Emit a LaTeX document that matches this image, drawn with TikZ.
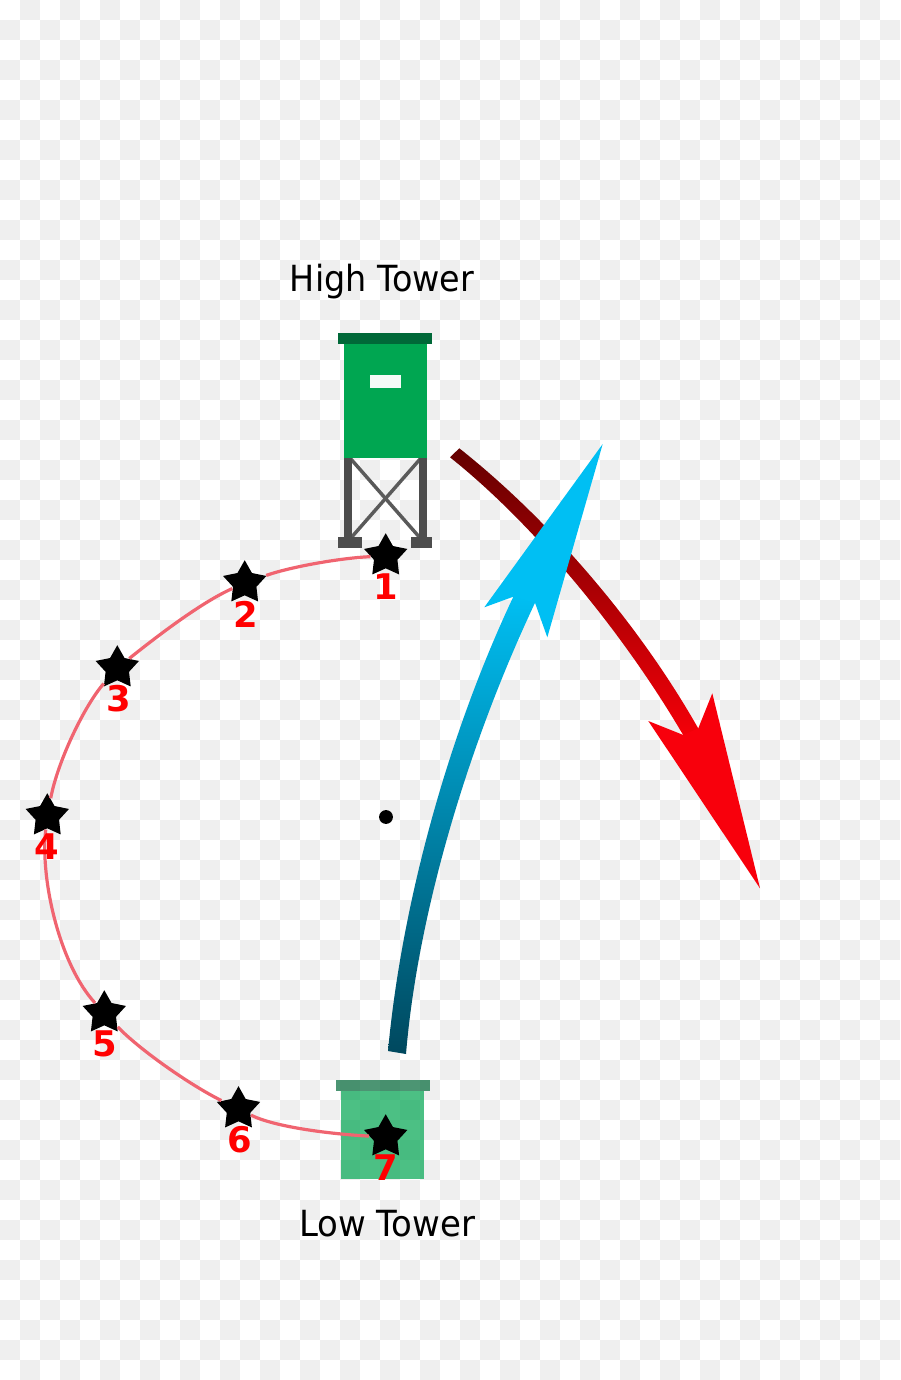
\documentclass[tikz,border=0pt]{standalone}
\usepackage{fontspec}
\usepackage{graphicx}
\usetikzlibrary{shapes.geometric}
\newfontfamily\towerfont{DejaVu Sans}
\newfontfamily\digitfont{DejaVu Sans Bold}
\definecolor{shaftdark}{RGB}{0,72,94}
\definecolor{shaftlight}{RGB}{0,191,243}
\definecolor{redshaftdark}{RGB}{100,0,0}
\definecolor{redshaftlight}{RGB}{245,0,8}
\tikzset{every picture/.style={line width=0.75pt}}
\tikzset{
  waypoint/.style={star,star points=5,star point ratio=1.85,fill=black,inner sep=0pt,minimum size=34.2pt},
  waynum/.style={anchor=base,inner sep=0pt,text={rgb, 255:red, 255; green, 0; blue, 0},font=\digitfont\fontsize{26.5}{27}\selectfont},
  towername/.style={anchor=base,inner sep=0pt,font=\towerfont\fontsize{27}{30}\selectfont},
  orbit/.style={draw={rgb, 255:red, 240; green, 100; blue, 112},line width=2.4pt}
}

\begin{document}
\begin{tikzpicture}[x=0.75pt,y=0.75pt,yscale=-1,xscale=1]
\useasboundingbox (0,0) rectangle (900,1380);

%Checks behind everything
\fill [white] (0,0) rectangle (900,1380);
\foreach \col in {0,...,44} {
  \foreach \row in {0,...,68} {
    \pgfmathtruncatemacro{\check}{mod(\col+\row,2)}
    \ifnum\check=1
      \fill [color={rgb, 255:red, 239; green, 239; blue, 239}] (\col*20,\row*20) rectangle ++(20,20);
    \fi
  }
}

%Straight Lines [high tower braces]
\draw [color={rgb, 255:red, 90; green, 90; blue, 90}, line width=2.6pt] (350,458) -- (421,539) ;
\draw [color={rgb, 255:red, 90; green, 90; blue, 90}, line width=2.6pt] (421,458) -- (350,539) ;
%Shape: Rectangle [high tower legs]
\fill [color={rgb, 255:red, 77; green, 77; blue, 77}] (344,458) -- (351.7,458) -- (351.7,540) -- (344,540) -- cycle ;
\fill [color={rgb, 255:red, 77; green, 77; blue, 77}] (419.3,458) -- (427,458) -- (427,540) -- (419.3,540) -- cycle ;
%Shape: Rectangle [high tower feet]
\fill [color={rgb, 255:red, 77; green, 77; blue, 77}] (338.3,537.3) -- (362.3,537.3) -- (362.3,548.3) -- (338.3,548.3) -- cycle ;
\fill [color={rgb, 255:red, 77; green, 77; blue, 77}] (411,537.3) -- (432.3,537.3) -- (432.3,548.3) -- (411,548.3) -- cycle ;
%Shape: Rectangle [high tower cabin]
\fill [color={rgb, 255:red, 0; green, 166; blue, 81}] (344,344) -- (427,344) -- (427,457.7) -- (344,457.7) -- cycle ;
\fill [color={rgb, 255:red, 0; green, 104; blue, 56}] (338.3,332.7) -- (432.3,332.7) -- (432.3,344) -- (338.3,344) -- cycle ;
\fill [color={rgb, 255:red, 245; green, 250; blue, 247}] (369.7,374.7) -- (401.3,374.7) -- (401.3,388) -- (369.7,388) -- cycle ;

%Shape: Rectangle [low tower]
\fill [color={rgb, 255:red, 0; green, 166; blue, 81}, fill opacity=0.7] (341.3,1091) -- (424,1091) -- (424,1179.3) -- (341.3,1179.3) -- cycle ;
\fill [color={rgb, 255:red, 0; green, 104; blue, 56}, fill opacity=0.7] (336,1080.3) -- (430,1080.3) -- (430,1091) -- (336,1091) -- cycle ;

%Curve Lines [red arrow shaft]
\shade [top color=redshaftdark, bottom color=redshaftlight] (459.3,448.3) .. controls (550,520) and (640,625) .. (699.3,730.3) -- (684.3,737) .. controls (625,635) and (535,525) .. (450,457.3) -- cycle ;
%Shape: Polygon [red arrow head]
\fill [color={rgb, 255:red, 248; green, 0; blue, 12}] (760,888.3) -- (712.3,693.3) -- (698.3,728.3) -- (683.3,735) -- (648.3,721) -- cycle ;

%Curve Lines [blue arrow shaft]
\shade [top color=shaftlight, bottom color=shaftdark] (388,1051) .. controls (402,900) and (450,730) .. (514.3,594.7) -- (536,600.7) .. controls (470,740) and (418,910) .. (406,1054) -- cycle ;
%Shape: Polygon [blue arrow head]
\fill [color={rgb, 255:red, 0; green, 191; blue, 243}] (602.7,444) -- (484.3,607.3) -- (513.3,596.7) -- (535,602.7) -- (547.3,637.3) -- cycle ;

%Shape: Circle [center dot]
\fill [color=black] (386,817) circle (5.2pt) ;

% Star Nodes
\node [waypoint] (wp1) at (385.7,556) {};
\node [waypoint] (wp2) at (244.7,583) {};
\node [waypoint] (wp3) at (117.3,668) {};
\node [waypoint] (wp4) at (47.3,816) {};
\node [waypoint] (wp5) at (104.3,1013) {};
\node [waypoint] (wp6) at (238.5,1109) {};
\node [waypoint] (wp7) at (385.7,1137) {};

%Curve Lines [path between the stars]
\draw [orbit] (wp1) .. controls (340,558) and (290,567) .. (wp2) ;
\draw [orbit] (wp2) .. controls (200,603) and (155,638) .. (wp3) ;
\draw [orbit] (wp3) .. controls (85,705) and (58,760) .. (wp4) ;
\draw [orbit] (wp4) .. controls (40,880) and (60,965) .. (wp5) ;
\draw [orbit] (wp5) .. controls (140,1050) and (190,1085) .. (wp6) ;
\draw [orbit] (wp6) .. controls (275,1127) and (330,1134) .. (wp7) ;

% Text Node
\node [waynum] (num1) at (385.7,599.5) {1};
\node [waynum] (num2) at (245.5,627.3) {2};
\node [waynum] (num3) at (118.5,711.7) {3};
\node [waynum] (num4) at (47,859.3) {4};
\node [waynum] (num5) at (104.5,1056) {5};
\node [waynum] (num6) at (239.5,1152.7) {6};
\node [waynum] (num7) at (385.7,1180) {7};
% Text Node
\node [towername] (hightower) at (382,291.5) {\scalebox{0.928}[1]{High Tower}};
% Text Node
\node [towername] (lowtower) at (387,1236.5) {\scalebox{0.943}[1]{Low Tower}};

\end{tikzpicture}
\end{document}
